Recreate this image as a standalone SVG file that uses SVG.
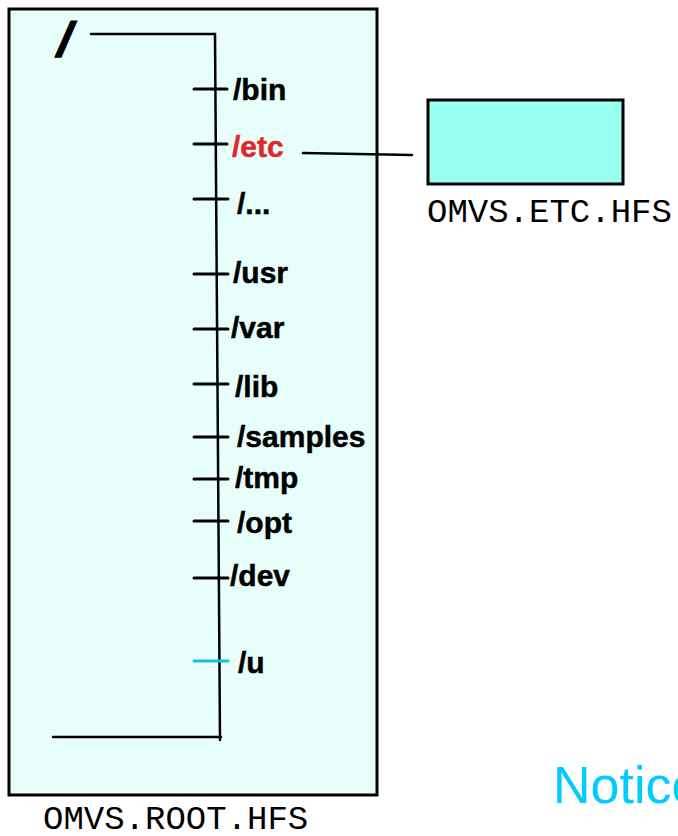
<svg xmlns="http://www.w3.org/2000/svg" width="678" height="836" viewBox="0 0 678 836">
<style>
.lbl{font-family:"Liberation Sans",Arial,sans-serif;font-weight:bold;font-size:30px;fill:#000;stroke:#000;stroke-width:0.5}
.mono{font-family:"Liberation Mono","Courier New",monospace;font-size:34px;fill:#000}
.tick{stroke:#000;stroke-width:3;stroke-linecap:round}
.ln{stroke:#000;stroke-width:2.5;fill:none;stroke-linecap:round}
</style>
<rect width="678" height="836" fill="#fff"/>
<g id="root-hfs">
<rect x="9" y="9" width="368" height="786" fill="#e8fefb" stroke="#000" stroke-width="3"/>
<text class="mono" x="43" y="829">OMVS.ROOT.HFS</text>
</g>
<g id="etc-hfs">
<rect x="428" y="100" width="195" height="84" fill="#99fff0" stroke="#000" stroke-width="3"/>
<text class="mono" x="427" y="222">OMVS.ETC.HFS</text>
</g>
<g id="connectors">
<path class="ln" d="M91 34 H215 L220 740"/>
<path class="ln" d="M53 737 H221"/>
<path class="ln" d="M303 153 L412 155"/>
<line class="tick" x1="194" y1="89" x2="227" y2="89"/>
<line class="tick" x1="194" y1="144" x2="227" y2="144"/>
<line class="tick" x1="194" y1="199" x2="228" y2="199"/>
<line class="tick" x1="194" y1="274" x2="228" y2="274"/>
<line class="tick" x1="194" y1="329" x2="228" y2="329"/>
<line class="tick" x1="194" y1="384" x2="228" y2="384"/>
<line class="tick" x1="194" y1="437" x2="228" y2="437"/>
<line class="tick" x1="194" y1="479" x2="228" y2="479"/>
<line class="tick" x1="194" y1="521" x2="228" y2="521"/>
<line class="tick" x1="194" y1="578" x2="228" y2="578"/>
<line x1="194" y1="661" x2="228" y2="661" stroke="#1bbfe0" stroke-width="3" stroke-linecap="round"/>
</g>
<g id="dir-root"><text class="lbl" transform="translate(55,56) skewX(-14)" style="font-size:48px;stroke-width:1.5">/</text></g>
<g id="dir-bin"><text class="lbl" x="233" y="100">/bin</text></g>
<g id="dir-etc"><text class="lbl" x="232" y="157" style="fill:#e3262b;stroke:#e3262b">/etc</text></g>
<g id="dir-more"><text class="lbl" x="237" y="214">/...</text></g>
<g id="dir-usr"><text class="lbl" x="233" y="283">/usr</text></g>
<g id="dir-var"><text class="lbl" x="231" y="338">/var</text></g>
<g id="dir-lib"><text class="lbl" x="235" y="397">/lib</text></g>
<g id="dir-samples"><text class="lbl" x="237" y="447">/samples</text></g>
<g id="dir-tmp"><text class="lbl" x="235" y="488">/tmp</text></g>
<g id="dir-opt"><text class="lbl" x="237" y="533">/opt</text></g>
<g id="dir-dev"><text class="lbl" x="230" y="586">/dev</text></g>
<g id="dir-u"><text class="lbl" x="238" y="673">/u</text></g>
<g id="notice"><text x="553" y="803" style="font-family:'Liberation Sans',Arial,sans-serif;font-size:52px;fill:#00ccff">Notice</text></g>
</svg>
